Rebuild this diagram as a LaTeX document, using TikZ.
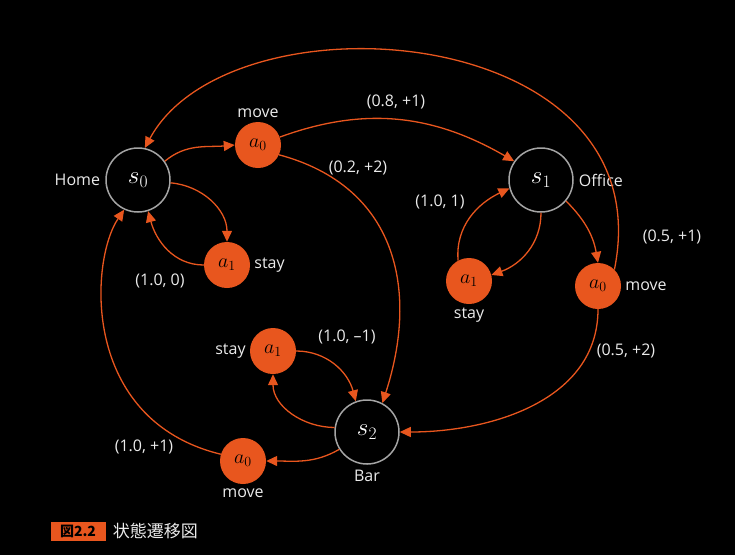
\RequirePackage{fix-cm}
\documentclass[tikz,border=0pt]{standalone}
\usepackage{fontspec}
\setsansfont{Open Sans}
\newfontfamily\jpfont{Noto Sans CJK JP}
\usetikzlibrary{arrows.meta, positioning}
\definecolor{actorange}{RGB}{232, 86, 30}
\definecolor{stategray}{RGB}{165, 165, 165}
\definecolor{labelgray}{RGB}{235, 235, 235}

\begin{document}
\begin{tikzpicture}[
  x=1pt, y=1pt,
  snode/.style={circle, draw=stategray, line width=1.5pt, fill=black, text=white, minimum size=64pt, inner sep=0pt, font=\fontsize{25}{25}\selectfont},
  anode/.style={circle, fill=actorange, text=black, minimum size=46pt, inner sep=0pt, font=\fontsize{20}{20}\selectfont},
  lbl/.style={text=labelgray, font=\sffamily\fontsize{16}{16}\selectfont, inner sep=1pt},
  trans/.style={draw=actorange, line width=1.3pt, -{Triangle[length=11pt, width=10pt]}}
]
  \fill[black] (0,0) rectangle (735,-555);
  \useasboundingbox (0,0) rectangle (735,-555);

  % states
  \node[snode] (s0) at (138,-180) {$s_0$};
  \node[snode] (s1) at (541,-180) {$s_1$};
  \node[snode] (s2) at (367,-432) {$s_2$};

  % actions
  \node[anode] (a0h) at (258,-145) {$a_0$};
  \node[anode] (a1h) at (227,-265) {$a_1$};
  \node[anode] (a1o) at (469,-281) {$a_1$};
  \node[anode] (a0o) at (598,-286) {$a_0$};
  \node[anode] (a1b) at (273,-351) {$a_1$};
  \node[anode] (a0b) at (243,-461) {$a_0$};

  % names and action labels
  \node[lbl, left=4pt of s0] (home) {Home};
  \node[lbl, right=4pt of s1] (office) {Office};
  \node[lbl, below=4pt of s2] (bar) {Bar};
  \node[lbl, above=3pt of a0h] (mvh) {move};
  \node[lbl, right=3pt of a1h] (sth) {stay};
  \node[lbl, below=3pt of a1o] (sto) {stay};
  \node[lbl, right=3pt of a0o] (mvo) {move};
  \node[lbl, left=3pt of a1b] (stb) {stay};
  \node[lbl, below=3pt of a0b] (mvb) {move};

  % transitions
  \draw[trans] (s0.35) to[out=40, in=185] (a0h.west);
  \draw[trans] (a0h.20) to[out=20, in=150] (s1.145);
  \draw[trans] (a0h.-25) to[out=-15, in=72, looseness=1.15] (s2.62);
  \draw[trans] (s0.-5) to[out=-5, in=90] (a1h.north);
  \draw[trans] (a1h.west) to[out=180, in=-75] (s0.-72);
  \draw[trans] (s1.-40) to[out=-45, in=100] (a0o.north);
  \draw[trans] (a0o.45) .. controls (665,-20) and (230,10) .. (s0.78);
  \draw[trans] (a0o.south) to[out=-90, in=0] (s2.east);
  \draw[trans] (s1.-90) to[out=-90, in=20] (a1o.15);
  \draw[trans] (a1o.118) to[out=95, in=205] (s1.195);
  \draw[trans] (a1b.east) to[out=0, in=105] (s2.110);
  \draw[trans] (s2.172) to[out=180, in=-90] (a1b.south);
  \draw[trans] (s2.212) to[out=210, in=0] (a0b.east);
  \draw[trans] (a0b.163) .. controls (80,-420) and (90,-260) .. (s0.-115);

  % rewards
  \node[lbl] (r1) at (396,-102) {(0.8, +1)};
  \node[lbl] (r2) at (358,-168) {(0.2, +2)};
  \node[lbl] (r3) at (160,-281) {(1.0, 0)};
  \node[lbl] (r4) at (440,-202) {(1.0, 1)};
  \node[lbl] (r5) at (672,-237) {(0.5, +1)};
  \node[lbl] (r6) at (626,-351) {(0.5, +2)};
  \node[lbl] (r7) at (347,-337) {(1.0, --1)};
  \node[lbl] (r8) at (144,-447) {(1.0, +1)};

  % caption
  \node[fill=actorange, text=black, font=\jpfont\bfseries\fontsize{14}{14}\selectfont, minimum width=55pt, minimum height=19pt, inner sep=0pt] (fig) at (78,-531) {図2.2};
  \node[right=7pt of fig, text=labelgray, font=\jpfont\fontsize{17}{17}\selectfont, inner sep=0pt] (cap) {状態遷移図};
\end{tikzpicture}
\end{document}
